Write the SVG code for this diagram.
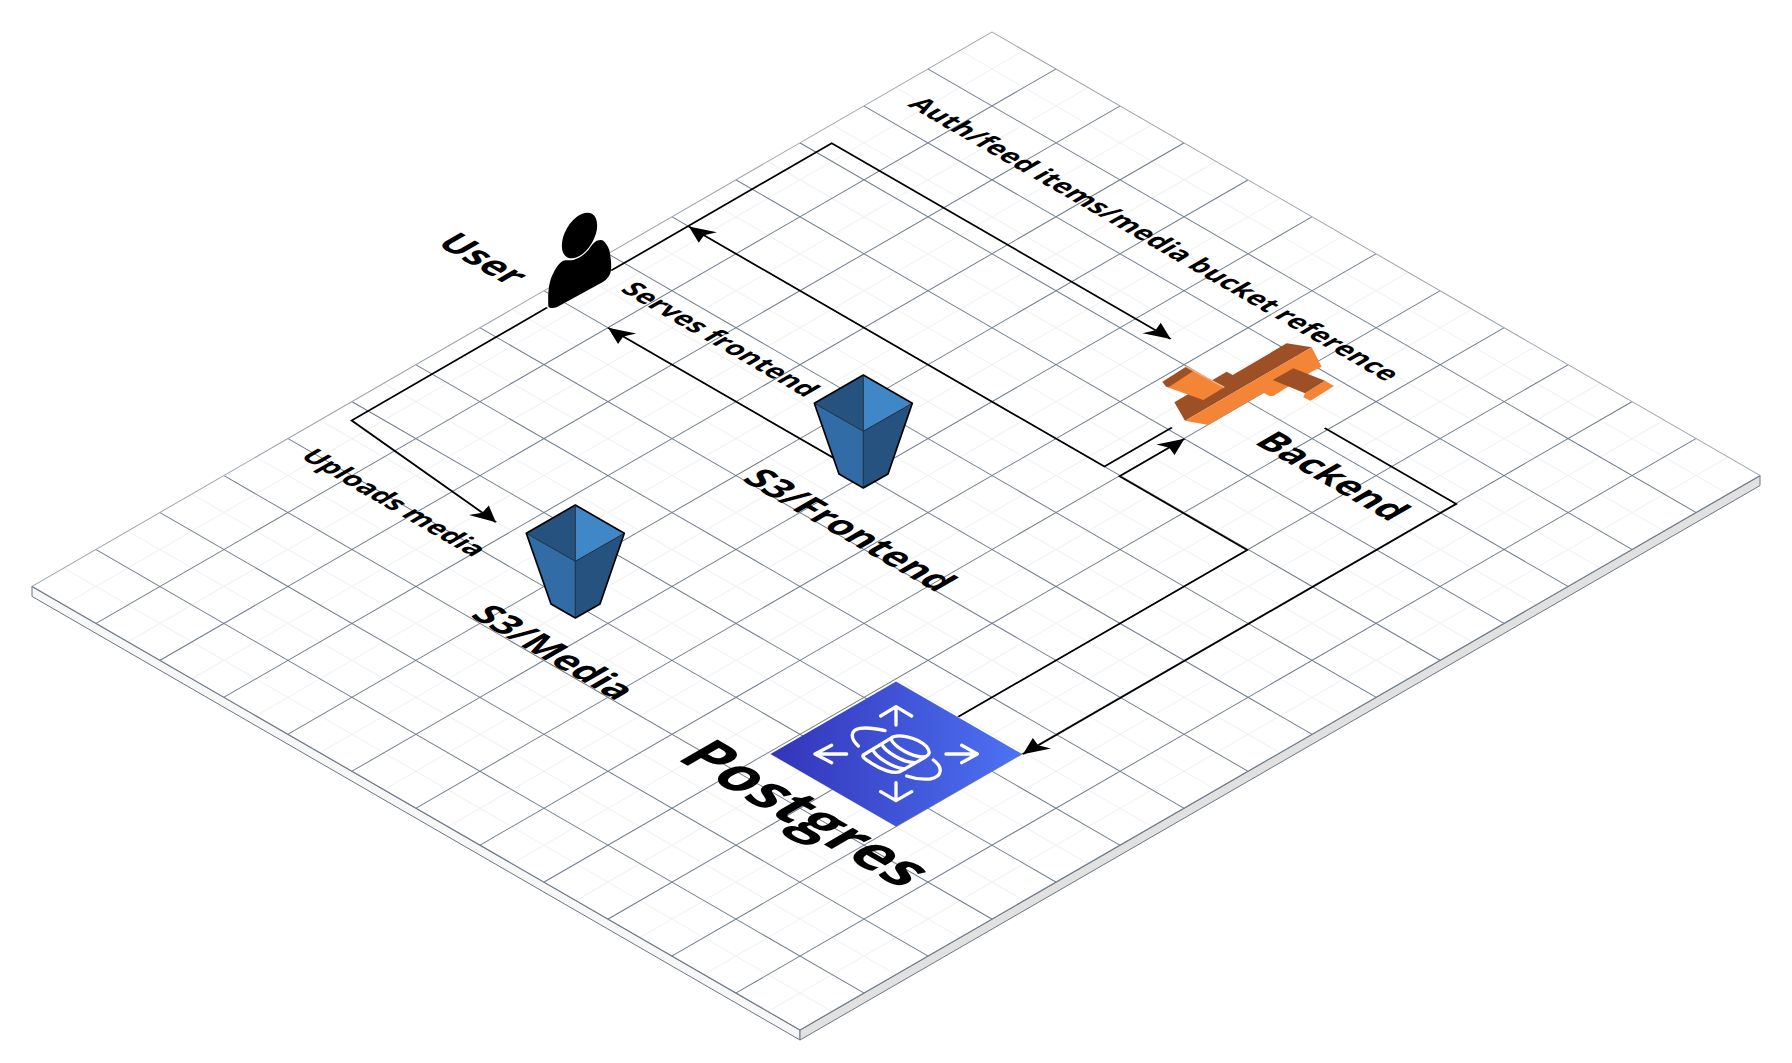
<svg xmlns="http://www.w3.org/2000/svg" xmlns:xlink="http://www.w3.org/1999/xlink" width="1792" height="1063" viewBox="0 0 1792 1063">
<style>
.lbl{font-family:"Open Sans","Noto Sans","Liberation Sans",sans-serif;font-weight:700;fill:#000;text-rendering:geometricPrecision}
.n40{font-size:37px}.n64{font-size:61px}.e28{font-size:27.1px}
.conn{fill:none;stroke:#000;stroke-width:2;marker-end:url(#arrow)}
.wi{fill:none;stroke:#fff;stroke-width:10;stroke-linecap:round;stroke-linejoin:round}
</style>
<defs>
<marker id="arrow" markerUnits="userSpaceOnUse" markerWidth="22" markerHeight="22" refX="22" refY="11" orient="auto" overflow="visible">
<path d="M0,0.5 L22,11 L0,21.5 L4.4,11 Z" fill="#000"/>
</marker>
<linearGradient id="rds" gradientUnits="userSpaceOnUse" x1="772" y1="754" x2="1021" y2="754">
<stop offset="0" stop-color="#3334b9"/><stop offset="1" stop-color="#4d72f3"/>
</linearGradient>
<g id="bucket">
<path d="M0,56.3 L-49,28.3 L0,0 Z" fill="#26527f"/>
<path d="M0,0 L49,28.3 L0,56.3 Z" fill="#4087c8"/>
<path d="M-49,28.3 L0,56.3 L0,113 L-24.3,99 Z" fill="#316ca6"/>
<path d="M49,28.3 L0,56.3 L0,113 L24.7,99 Z" fill="#26527f"/>
<path d="M0,0 L0,56.3 M-49,28.3 L0,56.3 L49,28.3 M0,56.3 L0,113" fill="none" stroke="#1a2a3a" stroke-width="1"/>
<path d="M0,0 L49,28.3 L24.7,99 L0,113 L-24.3,99 L-49,28.3 Z" fill="none" stroke="#000" stroke-width="1.7" stroke-linejoin="round"/>
</g>
</defs>
<g id="floor">
<polygon points="32,586.4 800,1030 800,1040 32,596.4" fill="#f7f7f7" stroke="#6b7785" stroke-width="1"/>
<polygon points="800,1030 1760,475.6 1760,485.6 800,1040" fill="#e1e1e1" stroke="#6b7785" stroke-width="1"/>
<g transform="matrix(0.865,0.4995,-0.865,0.4995,992,32)">
<rect x="0" y="0" width="888" height="1110" fill="#fff"/>
<path fill="none" stroke="#f0f0f0" stroke-width="1.1" d="M37,0V1110M111,0V1110M185,0V1110M259,0V1110M333,0V1110M407,0V1110M481,0V1110M555,0V1110M629,0V1110M703,0V1110M777,0V1110M851,0V1110M0,37H888M0,111H888M0,185H888M0,259H888M0,333H888M0,407H888M0,481H888M0,555H888M0,629H888M0,703H888M0,777H888M0,851H888M0,925H888M0,999H888M0,1073H888"/>
<path fill="none" stroke="#6f7b8a" stroke-width="1.1" d="M74,0V1110M148,0V1110M222,0V1110M296,0V1110M370,0V1110M444,0V1110M518,0V1110M592,0V1110M666,0V1110M740,0V1110M814,0V1110M0,74H888M0,148H888M0,222H888M0,296H888M0,370H888M0,444H888M0,518H888M0,592H888M0,666H888M0,740H888M0,814H888M0,888H888M0,962H888M0,1036H888"/>
<path fill="none" stroke="#9aa2ac" stroke-width="1.1" d="M0,1110V0H888"/>
<path fill="none" stroke="#6f7b8a" stroke-width="1.4" d="M888,0V1110H0"/>
</g>
</g>
<g id="connectors" transform="matrix(0.865,0.4995,-0.865,0.4995,992,32)">
<path class="conn" d="M18.7,459V204H410.6"/>
<path class="conn" d="M18.7,533V759L204,777.5"/>
<path class="conn" d="M340,518H74.2"/>
<path class="conn" d="M500,292V370H19.5"/>
<path class="conn" d="M666,705V371H518.5V296"/>
<path class="conn" d="M588.6,204H740.7V705"/>
</g>
<g id="edge-labels" transform="matrix(0.865,0.4995,-0.865,0.4995,992,32)">
<text class="lbl e28" x="24" y="122.5">Auth/feed items/media bucket reference</text>
<text class="lbl e28" x="43" y="474">Serves frontend</text>
<text class="lbl e28" x="25" y="826">Uploads media</text>
</g>
<g id="user">
<g transform="matrix(0.866,-0.5,0,1,579.5,235.5)"><circle r="20.4" fill="#000"/></g>
<path d="M548.3,306 C547.8,294 548.5,282 553.3,273.3 C556,267 560,262 563.3,260.7 C567,259.8 570,260.8 573.3,260 C580,258 585,254 588.3,250 C591,246 593.5,242.5 596.7,240.7 C600,239.5 602,239.8 603.3,240.7 C606,243 608.5,247 609.3,250 C611,258 611.5,265 611,270 C610.5,275 607,279.5 603.3,281.7 L556.7,307.3 C553,308.5 548.5,308.5 548.3,306 Z" fill="#000"/>
<g transform="matrix(0.865,0.4995,-0.865,0.4995,992,32)"><text class="lbl n40" x="-109.5" y="534">User</text></g>
</g>
<g id="s3-frontend">
<use xlink:href="#bucket" href="#bucket" transform="translate(863.3,375)"/>
<g transform="matrix(0.865,0.4995,-0.865,0.4995,992,32)"><text class="lbl n40" x="303" y="593.4">S3/Frontend</text></g>
</g>
<g id="s3-media">
<use xlink:href="#bucket" href="#bucket" transform="translate(575.3,505)"/>
<g transform="matrix(0.865,0.4995,-0.865,0.4995,992,32)"><text class="lbl n40" x="282.4" y="887">S3/Media</text></g>
</g>
<g id="backend">
<g transform="translate(1130,310) scale(0.33333)">
<path d="M133,277 L290,185 L308,195 L470,100 L545,112 L165,332 Z" fill="#9d5025"/>
<path d="M165,332 L545,112 L575,170 L545,185 L430,258 L418,258 L400,248 L235,345 Z" fill="#f58536"/>
<path d="M168,170 L283,232 L220,270 L108,230 Z" fill="#f58536"/>
<path d="M97,215 L168,170 L190,183 L118,230 L108,230 Z" fill="#9d5025"/>
<path d="M168,170 L283,232" fill="none" stroke="#f9b184" stroke-width="4"/>
<path d="M525,250 L585,212 L612,228 L542,272 L520,262 Z" fill="#f58536"/>
<path d="M428,210 L490,175 L585,212 L525,250 Z" fill="#9d5025"/>
</g>
<g transform="matrix(0.865,0.4995,-0.865,0.4995,992,32)"><text class="lbl n40" x="562" y="260.4">Backend</text></g>
</g>
<g id="postgres">
<polygon points="896,681.5 1022,754 896,826.5 770.5,754" fill="url(#rds)"/>
<g transform="translate(760,670) scale(0.33333)">
<path class="wi" d="M408,165V110M362,138L408,110L455,138M408,338V392M362,365L408,392L455,365M260,252H165M215,226L165,252L215,278M558,252H652M605,226L652,252L605,278"/>
<path class="wi" d="M295,228C270,205 270,180 300,175C325,172 350,176 375,182M520,270C548,290 550,320 510,327C485,329 460,325 440,318"/>
<path class="wi" d="M310,255L392,205C410,190 470,200 500,230C515,250 505,255 495,262L420,305C400,312 365,300 335,280C315,268 305,260 310,255ZM392,205C400,230 460,265 495,260M365,222C375,245 430,278 465,278M338,238C345,260 400,295 435,297"/>
</g>
<g transform="matrix(0.865,0.4995,-0.865,0.4995,992,32)"><text class="lbl n64" x="544" y="910.4">Postgres</text></g>
</g>
</svg>
